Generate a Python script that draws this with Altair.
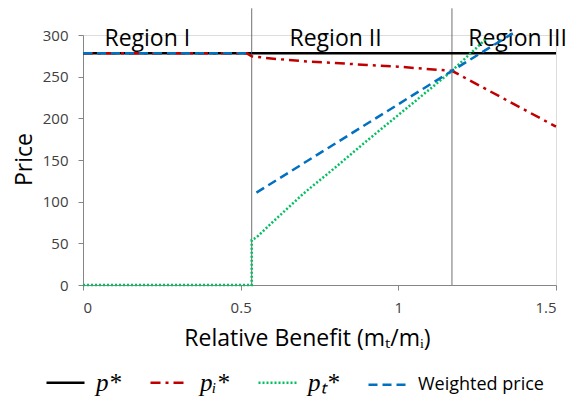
import altair as alt
import pandas as pd

# ---- data ----
series_names = ["p*", "pᵢ*", "pₜ*", "Weighted price"]
series_colors = ["#000000", "#C00000", "#00C060", "#0070C0"]
series_dashes = [[1, 0], [10, 5, 3, 5], [2, 2], [9, 5]]

x_pstar = [0, 1.5]
y_pstar = [278, 278]

x_pi = [0, 0.52, 0.535, 0.58, 0.62, 0.7, 0.8, 0.9, 1.0, 1.1, 1.17, 1.5]
y_pi = [278, 278, 274.5, 272.5, 271, 268.5, 266.5, 264, 262, 259, 257, 190]

x_pt = [0, 0.535, 0.535, 0.55, 0.6, 0.7, 0.8, 0.9, 1.0, 1.1, 1.17, 1.28]
y_pt = [0, 0, 54, 57, 75, 110, 141, 173, 204, 235, 257, 296]

x_w_a = [0, 0.535]
y_w_a = [278, 278]
x_w_b = [0.55, 1.17, 1.363]
y_w_b = [110.8, 257, 302]

region_bounds = [0.535, 1.17]
region_labels = ["Region I", "Region II", "Region III"]
region_x = [0.204, 0.801, 1.378]
region_y = [287, 287, 287]

x_ticks = [0, 0.5, 1, 1.5]
y_ticks = [0, 50, 100, 150, 200, 250, 300]

# ---- build tables ----
rows = []
def add(name, seg, xs, ys):
    for i, (a, b) in enumerate(zip(xs, ys)):
        rows.append({"series": name, "seg": f"{name}-{seg}", "idx": i, "x": a, "price": b})

add(series_names[0], 0, x_pstar, y_pstar)
add(series_names[1], 0, x_pi, y_pi)
add(series_names[2], 0, x_pt, y_pt)
add(series_names[3], 0, x_w_a, y_w_a)
add(series_names[3], 1, x_w_b, y_w_b)
df = pd.DataFrame(rows)

bounds_df = pd.DataFrame({"x": region_bounds})
labels_df = pd.DataFrame({"x": region_x, "price": region_y, "label": region_labels})

FONT = "Open Sans"
x_title = "Relative Benefit (mₜ/mᵢ)"

x_axis = alt.Axis(
    values=x_ticks, format="~g", grid=False,
    labelFont=FONT, labelFontSize=15, labelColor="#404040", labelPadding=10,
    tickSize=5, tickColor="#868686", domainColor="#868686",
    titleFont=FONT, titleFontSize=23, titleFontWeight="normal", titleColor="#000000",
    titleX=224, titleY=60, titleBaseline="alphabetic", titleAlign="center",
)
y_axis = alt.Axis(
    values=y_ticks, grid=False,
    labelFont=FONT, labelFontSize=15, labelColor="#404040", labelPadding=10,
    tickSize=5, tickColor="#868686", domainColor="#868686",
    titleFont=FONT, titleFontSize=23, titleFontWeight="normal", titleColor="#000000",
    titleAngle=270, titleX=-52, titleY=124, titleBaseline="alphabetic", titleAlign="center",
)
x_scale = alt.Scale(domain=[0, 1.5], nice=False, zero=False)
y_scale = alt.Scale(domain=[0, 300], nice=False)

def X():
    return alt.X("x:Q", scale=x_scale, axis=x_axis, title=x_title)

def Y():
    return alt.Y("price:Q", scale=y_scale, axis=y_axis, title="Price")

legend = alt.Legend(
    title=None, orient="none", legendX=-38, legendY=327, direction="horizontal",
    symbolType="stroke", symbolSize=1444, symbolStrokeWidth=2.5,
    labelFont=alt.ExprRef("datum.value == 'Weighted price' ? 'Open Sans' : 'Liberation Serif'"),
    labelFontStyle=alt.ExprRef("datum.value == 'Weighted price' ? 'normal' : 'italic'"),
    labelFontSize=alt.ExprRef("datum.value == 'Weighted price' ? 18 : 25"),
    labelColor="#000000", labelOffset=10, columnPadding=24, labelLimit=300,
)

rules = alt.Chart(bounds_df).mark_rule(color="#707070", strokeWidth=1, clip=False).encode(
    x=X(), y=alt.datum(0, scale=y_scale), y2=alt.datum(332)
)

texts = alt.Chart(labels_df).mark_text(
    font=FONT, fontSize=23, baseline="alphabetic", align="center", color="#000000"
).encode(x=X(), y=Y(), text="label:N")

lines = alt.Chart(df).mark_line(clip=False, strokeWidth=2.5).encode(
    x=X(),
    y=Y(),
    color=alt.Color("series:N", scale=alt.Scale(domain=series_names, range=series_colors), legend=legend),
    strokeDash=alt.StrokeDash("series:N", scale=alt.Scale(domain=series_names, range=series_dashes), legend=legend),
    detail="seg:N",
    order="idx:Q",
)

chart = alt.layer(rules, texts, lines).properties(
    width=473, height=250,
    autosize=alt.AutoSizeParams(type="none"),
    padding={"left": 83, "top": 35, "right": 14, "bottom": 111},
).configure_view(stroke=None).configure(background="white")

chart.save("out.html", embed_options={"renderer": "svg", "actions": False})
